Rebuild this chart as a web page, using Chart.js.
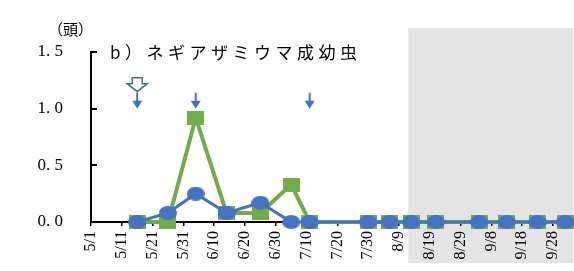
<!DOCTYPE html>
<html lang="ja">
<head>
<meta charset="utf-8">
<script src="https://cdn.jsdelivr.net/npm/chart.js@4"></script>
<style>
  html, body { margin: 0; padding: 0; background: #fff; }
</style>
</head>
<body>
<canvas id="chart" width="574" height="271"></canvas>
<script>
// 調査日と成幼虫数（頭）
const sampleDates = ['5/16', '5/26', '6/4', '6/14', '6/25', '7/5', '7/11', '7/30', '8/6', '8/13', '8/21', '9/4', '9/13', '9/23', '10/2'];
const blueCounts = [0, 0.08, 0.25, 0.08, 0.17, 0, 0, 0, 0, 0, 0, 0, 0, 0, 0];
const greenCounts = [0, 0, 0.92, 0.08, 0.08, 0.33, 0, 0, 0, 0, 0, 0, 0, 0, 0];

const xTickLabels = ['5/1', '5/11', '5/21', '5/31', '6/10', '6/20', '6/30', '7/10', '7/20', '7/30', '8/9', '8/19', '8/29', '9/8', '9/18', '9/28'];
const yTickValues = [0, 0.5, 1.0, 1.5];

// 散布日（矢印）
const sprayDates = ['5/16', '6/4', '7/11'];
const openArrowDates = ['5/16'];
const shadeFrom = '8/12';

const titleText = 'b）ネギアザミウマ成幼虫';
const unitText = '（頭）';

const monthStart = { 5: 0, 6: 31, 7: 61, 8: 92, 9: 123, 10: 153 };
function dayOf(md) {
  const [m, d] = md.split('/').map(Number);
  return monthStart[m] + d - 1;
}

function makeMarker(w, h, color, shape) {
  const c = document.createElement('canvas');
  c.width = w;
  c.height = h;
  const g = c.getContext('2d');
  g.fillStyle = color;
  if (shape === 'ellipse') {
    g.beginPath();
    g.ellipse(w / 2, h / 2, w / 2, h / 2, 0, 0, Math.PI * 2);
    g.fill();
  } else {
    g.fillRect(0, 0, w, h);
  }
  return c;
}

const BLUE = '#4472c4';
const GREEN = '#70ad47';
const blueDot = makeMarker(18, 14, BLUE, 'ellipse');
const greenBox = makeMarker(17, 14, GREEN, 'rect');

const decorPlugin = {
  id: 'decor',
  beforeDraw(chart) {
    const { ctx, chartArea, scales: { x } } = chart;
    const left = x.getPixelForValue(dayOf(shadeFrom));
    ctx.save();
    ctx.fillStyle = '#e4e4e4';
    ctx.fillRect(left, chartArea.top - 24, chartArea.right - left, chartArea.bottom - chartArea.top + 65);
    ctx.restore();
  },
  afterDraw(chart) {
    const { ctx, chartArea, scales: { x, y } } = chart;
    ctx.save();

    // 縦軸の目盛り（内向き）
    ctx.strokeStyle = '#000';
    ctx.lineWidth = 2;
    yTickValues.forEach((v) => {
      const py = Math.round(y.getPixelForValue(v));
      ctx.beginPath();
      ctx.moveTo(chartArea.left, py);
      ctx.lineTo(chartArea.left + 6, py);
      ctx.stroke();
    });

    // 矢印
    const tipY = y.getPixelForValue(1.0);
    sprayDates.forEach((d) => {
      const px = x.getPixelForValue(dayOf(d));
      ctx.strokeStyle = BLUE;
      ctx.fillStyle = BLUE;
      ctx.lineWidth = 2;
      ctx.beginPath();
      ctx.moveTo(px, tipY - 16);
      ctx.lineTo(px, tipY - 6);
      ctx.stroke();
      ctx.beginPath();
      ctx.moveTo(px - 5, tipY - 8);
      ctx.lineTo(px + 5, tipY - 8);
      ctx.lineTo(px, tipY);
      ctx.closePath();
      ctx.fill();
    });
    openArrowDates.forEach((d) => {
      const px = x.getPixelForValue(dayOf(d));
      const top = tipY - 31, neck = tipY - 25, tip = tipY - 17;
      ctx.beginPath();
      ctx.moveTo(px - 5, top);
      ctx.lineTo(px + 5, top);
      ctx.lineTo(px + 5, neck);
      ctx.lineTo(px + 10, neck);
      ctx.lineTo(px, tip);
      ctx.lineTo(px - 10, neck);
      ctx.lineTo(px - 5, neck);
      ctx.closePath();
      ctx.fillStyle = '#fff';
      ctx.fill();
      ctx.strokeStyle = '#41719c';
      ctx.lineWidth = 1.5;
      ctx.stroke();
    });

    // 表題と単位
    ctx.fillStyle = '#000';
    ctx.textBaseline = 'middle';
    ctx.font = '17px "Noto Sans CJK JP"';
    ctx.letterSpacing = '4.5px';
    ctx.fillText(titleText, chartArea.left + 19, chartArea.top + 1);
    ctx.letterSpacing = '0px';
    ctx.font = '15px "Noto Sans CJK JP"';
    ctx.fillText(unitText, 48, chartArea.top - 23);
    ctx.restore();
  }
};

new Chart(document.getElementById('chart'), {
  type: 'line',
  data: {
    datasets: [
      {
        label: '系列1',
        data: sampleDates.map((d, i) => ({ x: dayOf(d), y: blueCounts[i] })),
        borderColor: BLUE,
        backgroundColor: BLUE,
        borderWidth: 3,
        pointStyle: blueDot,
        pointRadius: 8,
        clip: false,
      },
      {
        label: '系列2',
        data: sampleDates.map((d, i) => ({ x: dayOf(d), y: greenCounts[i] })),
        borderColor: GREEN,
        backgroundColor: GREEN,
        borderWidth: 4,
        pointStyle: greenBox,
        pointRadius: 8,
        clip: false,
      }
    ]
  },
  options: {
    responsive: false,
    animation: false,
    layout: { autoPadding: false, padding: { top: 52, right: 1, left: 0, bottom: 0 } },
    plugins: { legend: { display: false }, tooltip: { enabled: false } },
    scales: {
      x: {
        type: 'linear',
        min: 0,
        max: 156.5,
        afterBuildTicks: (s) => { s.ticks = xTickLabels.map((l) => ({ value: dayOf(l) })); },
        afterFit: (s) => { s.height = 49; s.paddingLeft = 0; s.paddingRight = 0; },
        grid: { display: true, drawOnChartArea: false, drawTicks: true, tickLength: 4, color: '#000', lineWidth: 1.5 },
        border: { display: true, color: '#000', width: 2 },
        ticks: {
          autoSkip: false,
          minRotation: 90,
          maxRotation: 90,
          padding: 5,
          color: '#000',
          font: { family: 'Liberation Serif', size: 16 },
          callback: (v, i) => xTickLabels[i],
        }
      },
      y: {
        min: 0,
        max: 1.5,
        afterBuildTicks: (s) => { s.ticks = yTickValues.map((v) => ({ value: v })); },
        afterFit: (s) => { s.width = 91; },
        grid: { display: false, drawTicks: false },
        border: { display: true, color: '#000', width: 2 },
        ticks: {
          padding: 28,
          color: '#000',
          font: { family: 'Liberation Serif', size: 17 },
          callback: (v) => v.toFixed(1).replace('.', '. '),
        }
      }
    }
  },
  plugins: [decorPlugin]
});
</script>
</body>
</html>
